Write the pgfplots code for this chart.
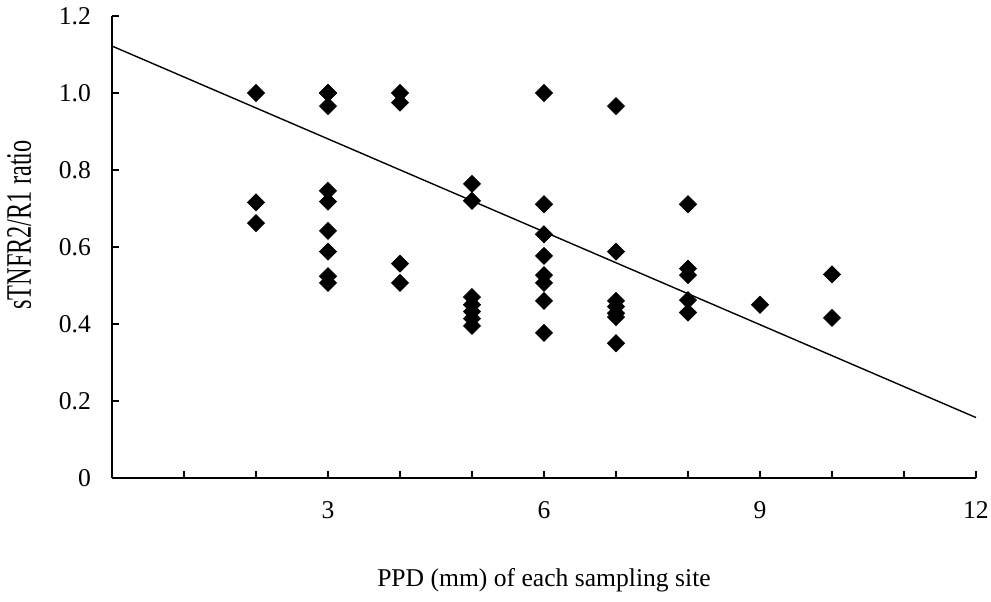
\documentclass[border=0pt]{standalone}
\usepackage{fontspec}
\setmainfont{Liberation Serif}
\usepackage{pgfplots}
\pgfplotsset{compat=1.18}

\begin{document}
\begin{tikzpicture}
\begin{axis}[
    scale only axis,
    width=432pt, height=231pt,
    xmin=0, xmax=12, ymin=0, ymax=1.2,
    axis x line=bottom, axis y line=left,
    axis line style={-, line width=0.75pt},
    tick align=inside,
    major tick length=3.5pt,
    tick style={line width=0.6pt, black},
    xtick={1,2,3,4,5,6,7,8,9,10,11,12},
    xticklabels={,,3,,,6,,,9,,,12},
    ytick={0,0.2,0.4,0.6,0.8,1.0,1.2},
    yticklabels={0,0.2,0.4,0.6,0.8,1.0,1.2},
    /pgf/number format/assume math mode=true,
    tick label style={font=\fontsize{12.8}{15}\selectfont},
    label style={font=\fontsize{12.8}{15}\selectfont},
    xticklabel style={yshift=-8pt},
    yticklabel style={xshift=-7pt},
    xlabel={PPD (mm) of each sampling site},
    ylabel={\scalebox{0.95}[1.4]{sTNFR2/R1 ratio}},
    xlabel style={yshift=-18pt},
    ylabel style={yshift=7pt, xshift=11pt},
    clip=false,
]
\addplot[only marks, mark=square*, mark size=3pt, mark options={rotate=45, fill=black, draw=black}] coordinates {
(2,1.0) (2,0.716) (2,0.662)
(3,1.0) (3,1.0) (3,0.966) (3,0.746) (3,0.718) (3,0.642) (3,0.588) (3,0.524) (3,0.507)
(4,1.0) (4,0.975) (4,0.557) (4,0.507)
(5,0.764) (5,0.720) (5,0.470) (5,0.450) (5,0.432) (5,0.414) (5,0.395)
(6,1.0) (6,0.711) (6,0.633) (6,0.577) (6,0.527) (6,0.507) (6,0.460) (6,0.377)
(7,0.966) (7,0.588) (7,0.460) (7,0.445) (7,0.428) (7,0.418) (7,0.350)
(8,0.711) (8,0.544) (8,0.527) (8,0.462) (8,0.430)
(9,0.450)
(10,0.529) (10,0.416)
};
\addplot[black, line width=0.7pt, no marks] coordinates {(0,1.122) (12,0.157)};
\coordinate (bl) at (rel axis cs:-0.12963,-0.26623);
\coordinate (tr) at (rel axis cs:1.01736,1.03463);
\end{axis}
\pgfresetboundingbox
\path (bl) rectangle (tr);
\end{tikzpicture}
\end{document}
